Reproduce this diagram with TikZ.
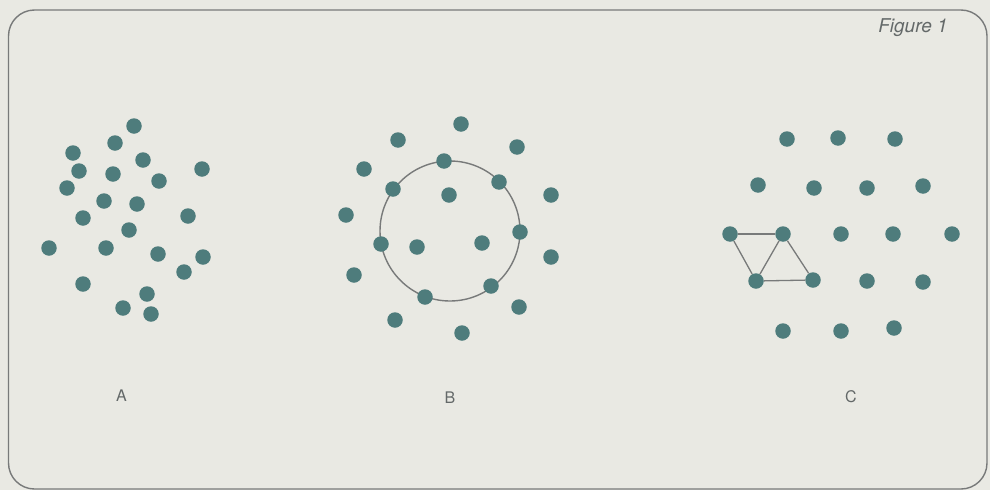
\documentclass[tikz,border=0pt]{standalone}
\usepackage{fontspec}
\setsansfont{TeX Gyre Heros}
\usetikzlibrary{positioning}
\definecolor{dotteal}{RGB}{78,124,124}
\definecolor{paper}{RGB}{233,233,227}
\definecolor{framegray}{RGB}{120,122,122}
\definecolor{labelgray}{RGB}{100,105,105}

\begin{document}
\begin{tikzpicture}[x=1pt, y=-1pt,
  dot/.style={circle, fill=dotteal, inner sep=0pt, minimum size=15.5pt},
  rim/.style={draw=framegray, line width=1.4pt},
  link/.style={framegray, line width=1.3pt},
  panel/.style={font=\sffamily\fontsize{16}{16}\selectfont, text=labelgray}]
  \fill[paper] (0,0) rectangle (990,490);
  \useasboundingbox (0,0) rectangle (990,490);

  % Frame
  \draw[rim, rounded corners=26pt] (8.5,10) rectangle (987,489);
  \node[font=\sffamily\itshape\fontsize{19}{19}\selectfont, text=labelgray] (figno) at (913,28) {Figure 1};

  % Panel A: scattered dots
  \foreach \x/\y [count=\i] in {134/126, 115/143, 73/153, 143/160, 79/171, 113/174,
      202/169, 159/181, 67/188, 104/201, 137/204, 83/218, 188/216, 129/230,
      49/248, 106/248, 158/254, 203/257, 184/272, 83/284, 147/294, 123/308, 151/314} {
    \node[dot] (a\i) at (\x,\y) {};
  }
  \node[panel] (labA) at (121.5,396) {A};

  % Panel B: dots round a circle
  \node[rim, circle, minimum size=140pt, inner sep=0pt] (ring) at (450,231) {};
  \foreach \x/\y [count=\i] in {461/124, 398/140, 517/147, 444/161, 364/169, 499/182,
      393/189, 449/195, 551/195, 346/215, 520/232, 381/244, 417/247, 482/243,
      551/257, 354/275, 491/286, 425/297, 519/307, 395/320, 462/333} {
    \node[dot] (b\i) at (\x,\y) {};
  }
  \node[panel] (labB) at (450,398) {B};

  % Panel C: lattice
  \foreach \x/\y [count=\i] in {787/139, 838/138, 895/139,
      758/185, 814/188, 867/188, 923/186,
      730/234, 783/234, 841/234, 893/234, 952/234,
      756/281, 813/280, 867/281, 923/282,
      783/331, 841/331, 894/328} {
    \node[dot] (c\i) at (\x,\y) {};
  }
  \draw[link] (c8) -- (c9);
  \draw[link] (c8) -- (c13);
  \draw[link] (c9) -- (c13);
  \draw[link] (c13) -- (c14);
  \draw[link] (c9) -- (c14);
  \node[panel] (labC) at (851,397) {C};
\end{tikzpicture}
\end{document}
